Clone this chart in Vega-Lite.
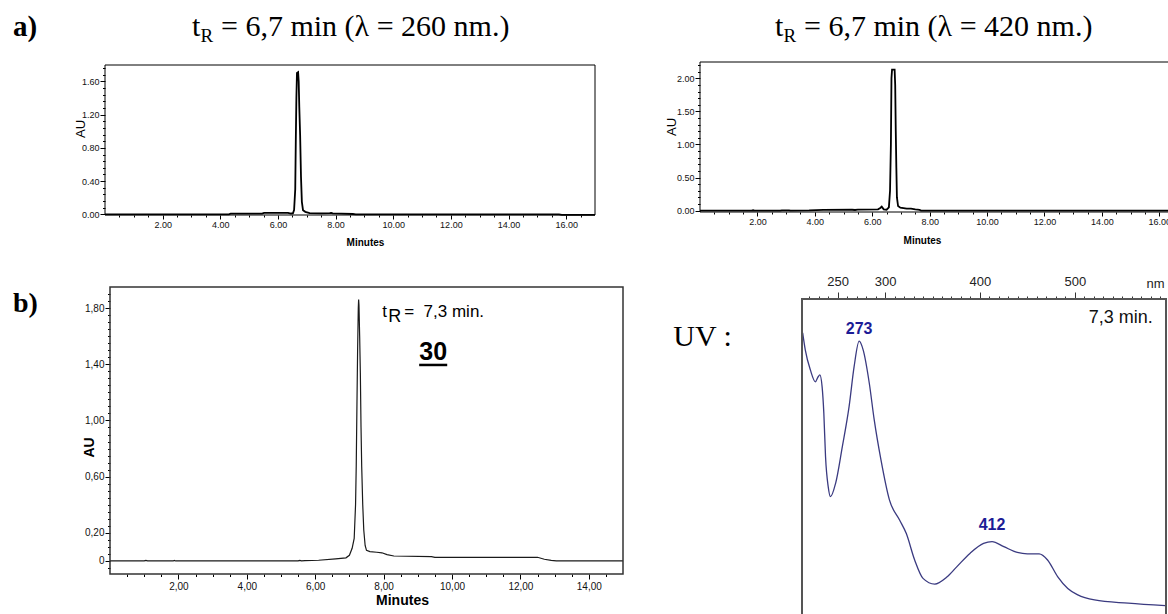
{
  "$schema": "https://vega.github.io/schema/vega-lite/v6.json",
  "width": 1168,
  "height": 614,
  "autosize": {"type": "none"},
  "padding": 0,
  "background": "#ffffff",
  "datasets": {
    "chromA": [
      {"t": 0, "au": 0}, {"t": 4.3, "au": 0}, {"t": 4.36, "au": 0.008}, {"t": 5.45, "au": 0.008}, {"t": 5.52, "au": 0.018},
      {"t": 6.35, "au": 0.018}, {"t": 6.45, "au": 0.01}, {"t": 6.52, "au": 0.012}, {"t": 6.56, "au": 0.05}, {"t": 6.6, "au": 0.3},
      {"t": 6.62, "au": 0.9}, {"t": 6.64, "au": 1.4}, {"t": 6.66, "au": 1.7}, {"t": 6.7, "au": 1.71}, {"t": 6.72, "au": 1.6},
      {"t": 6.74, "au": 1.3}, {"t": 6.77, "au": 0.95}, {"t": 6.8, "au": 0.45}, {"t": 6.83, "au": 0.15}, {"t": 6.87, "au": 0.05},
      {"t": 6.95, "au": 0.03}, {"t": 7.1, "au": 0.015}, {"t": 7.5, "au": 0.012}, {"t": 7.8, "au": 0.014}, {"t": 7.85, "au": 0.018},
      {"t": 7.9, "au": 0.012}, {"t": 8.2, "au": 0.008}, {"t": 8.6, "au": 0.004}, {"t": 8.7, "au": 0}, {"t": 15.75, "au": 0},
      {"t": 15.85, "au": -0.006}, {"t": 17, "au": -0.006}
    ],
    "chromB": [
      {"t": 0, "au": 0}, {"t": 1.8, "au": 0}, {"t": 1.85, "au": 0.006}, {"t": 1.9, "au": 0}, {"t": 2.8, "au": 0},
      {"t": 2.85, "au": 0.006}, {"t": 3.1, "au": 0.006}, {"t": 3.15, "au": 0}, {"t": 3.8, "au": 0.004}, {"t": 4.3, "au": 0.012},
      {"t": 5.3, "au": 0.014}, {"t": 5.4, "au": 0.01}, {"t": 5.5, "au": 0.015}, {"t": 6.2, "au": 0.02}, {"t": 6.28, "au": 0.04},
      {"t": 6.33, "au": 0.06}, {"t": 6.4, "au": 0.02}, {"t": 6.5, "au": 0.015}, {"t": 6.58, "au": 0.05}, {"t": 6.62, "au": 0.3},
      {"t": 6.65, "au": 1.0}, {"t": 6.67, "au": 2.0}, {"t": 6.69, "au": 2.13}, {"t": 6.78, "au": 2.13}, {"t": 6.8, "au": 1.9},
      {"t": 6.82, "au": 1.2}, {"t": 6.84, "au": 0.65}, {"t": 6.86, "au": 0.2}, {"t": 6.9, "au": 0.07}, {"t": 6.98, "au": 0.045},
      {"t": 7.2, "au": 0.03}, {"t": 7.35, "au": 0.03}, {"t": 7.5, "au": 0.02}, {"t": 7.65, "au": 0.012}, {"t": 7.7, "au": 0.002},
      {"t": 17, "au": 0}
    ],
    "chromC": [
      {"t": 0, "au": 0}, {"t": 1.0, "au": 0}, {"t": 1.05, "au": 0.004}, {"t": 1.1, "au": 0}, {"t": 1.85, "au": 0},
      {"t": 1.88, "au": 0.004}, {"t": 1.92, "au": 0}, {"t": 5.5, "au": 0}, {"t": 5.55, "au": 0.004}, {"t": 5.6, "au": 0},
      {"t": 5.7, "au": 0.002}, {"t": 6.1, "au": 0.005}, {"t": 6.6, "au": 0.015}, {"t": 6.9, "au": 0.022}, {"t": 7.0, "au": 0.04},
      {"t": 7.08, "au": 0.09}, {"t": 7.14, "au": 0.16}, {"t": 7.18, "au": 0.4}, {"t": 7.2, "au": 0.68}, {"t": 7.22, "au": 1.1},
      {"t": 7.24, "au": 1.5}, {"t": 7.26, "au": 1.8}, {"t": 7.27, "au": 1.86}, {"t": 7.28, "au": 1.82}, {"t": 7.3, "au": 1.6},
      {"t": 7.32, "au": 1.34}, {"t": 7.34, "au": 0.95}, {"t": 7.36, "au": 0.67}, {"t": 7.39, "au": 0.4}, {"t": 7.42, "au": 0.22},
      {"t": 7.46, "au": 0.11}, {"t": 7.5, "au": 0.075}, {"t": 7.6, "au": 0.066}, {"t": 7.8, "au": 0.062}, {"t": 7.95, "au": 0.058},
      {"t": 8.1, "au": 0.045}, {"t": 8.3, "au": 0.035}, {"t": 9.4, "au": 0.031}, {"t": 9.5, "au": 0.026}, {"t": 12.5, "au": 0.026},
      {"t": 12.7, "au": 0.012}, {"t": 12.9, "au": 0.004}, {"t": 13.05, "au": 0}, {"t": 15, "au": 0}
    ],
    "uv": [
      {"nm": 213.2, "a": 0.906}, {"nm": 216, "a": 0.858}, {"nm": 221.3, "a": 0.803}, {"nm": 226.6, "a": 0.77},
      {"nm": 229.5, "a": 0.784}, {"nm": 231.3, "a": 0.789}, {"nm": 233.7, "a": 0.756}, {"nm": 235.5, "a": 0.683},
      {"nm": 237.3, "a": 0.562}, {"nm": 240.1, "a": 0.479}, {"nm": 242.5, "a": 0.451}, {"nm": 247.9, "a": 0.488},
      {"nm": 255, "a": 0.59}, {"nm": 262.1, "a": 0.701}, {"nm": 267.4, "a": 0.812}, {"nm": 272.7, "a": 0.883},
      {"nm": 277, "a": 0.858}, {"nm": 283.4, "a": 0.766}, {"nm": 288.6, "a": 0.664}, {"nm": 295.7, "a": 0.553},
      {"nm": 304.6, "a": 0.442}, {"nm": 315.3, "a": 0.386}, {"nm": 322.3, "a": 0.349}, {"nm": 331.2, "a": 0.275},
      {"nm": 340, "a": 0.224}, {"nm": 352.4, "a": 0.208}, {"nm": 364.8, "a": 0.227}, {"nm": 375.5, "a": 0.256},
      {"nm": 389.7, "a": 0.294}, {"nm": 403.8, "a": 0.321}, {"nm": 412.7, "a": 0.326}, {"nm": 425.1, "a": 0.312},
      {"nm": 439.3, "a": 0.296}, {"nm": 449.9, "a": 0.292}, {"nm": 462.3, "a": 0.292}, {"nm": 471.2, "a": 0.275},
      {"nm": 481.8, "a": 0.229}, {"nm": 492.5, "a": 0.196}, {"nm": 503.1, "a": 0.178}, {"nm": 520.7, "a": 0.164},
      {"nm": 556.2, "a": 0.155}, {"nm": 595.3, "a": 0.148}
    ]
  },
  "resolve": {"scale": {"x": "independent", "y": "independent"}, "axis": {"x": "independent", "y": "independent"}},
  "layer": [
    {
      "resolve": {"axis": {"x": "independent", "y": "independent"}},
      "layer": [
        {
          "data": {"name": "chromA"},
          "mark": {"type": "line", "color": "#000000", "strokeWidth": 1.8},
          "encoding": {
            "x": {"field": "t", "type": "quantitative", "scale": {"domain": [0, 17], "range": [105, 595], "nice": false, "zero": false},
              "axis": {"orient": "bottom", "offset": -399, "title": "Minutes", "values": [0.5,1,1.5,2,2.5,3,3.5,4,4.5,5,5.5,6,6.5,7,7.5,8,8.5,9,9.5,10,10.5,11,11.5,12,12.5,13,13.5,14,14.5,15,15.5,16,16.5],
                "labelExpr": "datum.value % 2 === 0 ? format(datum.value, '.2f') : ''",
                "tickSize": {"condition": {"test": "datum.value % 2 === 0", "value": 4}, "value": 2},
                "labelFontSize": 9, "labelPadding": 1.5, "labelOverlap": false,
                "titleFontWeight": "bold", "titleFontSize": 10, "titleX": 365, "titleY": 27, "titleBaseline": "middle"}},
            "y": {"field": "au", "type": "quantitative", "scale": {"domain": [-0.008, 1.797], "range": [215, 65], "nice": false, "zero": false},
              "axis": {"orient": "left", "offset": -105, "title": "AU", "values": [0,0.08,0.16,0.24,0.32,0.4,0.48,0.56,0.64,0.72,0.8,0.88,0.96,1.04,1.12,1.2,1.28,1.36,1.44,1.52,1.6,1.68,1.76],
                "labelExpr": "indexof([0,0.4,0.8,1.2,1.6], datum.value) >= 0 ? format(datum.value, '.2f') : ''",
                "tickSize": {"condition": {"test": "indexof([0,0.4,0.8,1.2,1.6], datum.value) >= 0", "value": 5}, "value": 2.5},
                "labelFontSize": 9, "labelPadding": 1, "labelOverlap": false,
                "titleFontWeight": "normal", "titleFontSize": 13, "titleX": -24.5, "titleY": 128.5, "titleBaseline": "middle", "titleAlign": "center"}}
          }
        },
        {
          "data": {"values": [{}]},
          "mark": {"type": "rect", "filled": false, "stroke": "#000000", "strokeWidth": 1},
          "encoding": {
            "x": {"datum": 0, "type": "quantitative", "scale": {"domain": [0, 17], "range": [105, 595], "nice": false, "zero": false}, "axis": null},
            "x2": {"datum": 17},
            "y": {"datum": -0.008, "type": "quantitative", "scale": {"domain": [-0.008, 1.797], "range": [215, 65], "nice": false, "zero": false}, "axis": null},
            "y2": {"datum": 1.797}
          }
        },
        {
          "data": {"values": [{}]},
          "mark": {"type": "text", "text": "a)", "font": "Liberation Serif", "fontWeight": "bold", "fontSize": 29, "align": "left", "baseline": "alphabetic", "color": "#000000"},
          "encoding": {
            "x": {"datum": -3.192, "type": "quantitative", "scale": {"domain": [0, 17], "range": [105, 595], "nice": false, "zero": false}, "axis": null},
            "y": {"datum": 2.146, "type": "quantitative", "scale": {"domain": [-0.008, 1.797], "range": [215, 65], "nice": false, "zero": false}, "axis": null}
          }
        },
        {
          "data": {"values": [{}]},
          "mark": {"type": "text", "text": "t", "font": "Liberation Serif", "fontSize": 30, "align": "left", "baseline": "alphabetic", "color": "#000000"},
          "encoding": {
            "x": {"datum": 3.019, "type": "quantitative", "scale": {"domain": [0, 17], "range": [105, 595], "nice": false, "zero": false}, "axis": null},
            "y": {"datum": 2.146, "type": "quantitative", "scale": {"domain": [-0.008, 1.797], "range": [215, 65], "nice": false, "zero": false}, "axis": null}
          }
        },
        {
          "data": {"values": [{}]},
          "mark": {"type": "text", "text": "R", "font": "Liberation Serif", "fontSize": 19, "align": "left", "baseline": "alphabetic", "dx": 8.5, "dy": 6, "color": "#000000"},
          "encoding": {
            "x": {"datum": 3.019, "type": "quantitative", "scale": {"domain": [0, 17], "range": [105, 595], "nice": false, "zero": false}, "axis": null},
            "y": {"datum": 2.146, "type": "quantitative", "scale": {"domain": [-0.008, 1.797], "range": [215, 65], "nice": false, "zero": false}, "axis": null}
          }
        },
        {
          "data": {"values": [{}]},
          "mark": {"type": "text", "text": "= 6,7 min (λ = 260 nm.)", "font": "Liberation Serif", "fontSize": 30, "align": "left", "baseline": "alphabetic", "dx": 29, "color": "#000000"},
          "encoding": {
            "x": {"datum": 3.019, "type": "quantitative", "scale": {"domain": [0, 17], "range": [105, 595], "nice": false, "zero": false}, "axis": null},
            "y": {"datum": 2.146, "type": "quantitative", "scale": {"domain": [-0.008, 1.797], "range": [215, 65], "nice": false, "zero": false}, "axis": null}
          }
        }
      ]
    },
    {
      "resolve": {"axis": {"x": "independent", "y": "independent"}},
      "layer": [
        {
          "data": {"name": "chromB"},
          "mark": {"type": "line", "color": "#000000", "strokeWidth": 1.8},
          "encoding": {
            "x": {"field": "t", "type": "quantitative", "scale": {"domain": [0, 17], "range": [700, 1188], "nice": false, "zero": false},
              "axis": {"orient": "bottom", "offset": -402, "title": "Minutes", "values": [0.5,1,1.5,2,2.5,3,3.5,4,4.5,5,5.5,6,6.5,7,7.5,8,8.5,9,9.5,10,10.5,11,11.5,12,12.5,13,13.5,14,14.5,15,15.5,16,16.5],
                "labelExpr": "datum.value % 2 === 0 ? format(datum.value, '.2f') : ''",
                "tickSize": {"condition": {"test": "datum.value % 2 === 0", "value": 4}, "value": 2},
                "labelFontSize": 9, "labelPadding": 1.5, "labelOverlap": false,
                "titleFontWeight": "bold", "titleFontSize": 10, "titleX": 922, "titleY": 28, "titleBaseline": "middle"}},
            "y": {"field": "au", "type": "quantitative", "scale": {"domain": [-0.02, 2.246], "range": [212, 62], "nice": false, "zero": false},
              "axis": {"orient": "left", "offset": -700, "title": "AU", "values": [0,0.1,0.2,0.3,0.4,0.5,0.6,0.7,0.8,0.9,1,1.1,1.2,1.3,1.4,1.5,1.6,1.7,1.8,1.9,2,2.1,2.2],
                "labelExpr": "indexof([0,0.5,1,1.5,2], datum.value) >= 0 ? format(datum.value, '.2f') : ''",
                "tickSize": {"condition": {"test": "indexof([0,0.5,1,1.5,2], datum.value) >= 0", "value": 5}, "value": 2.5},
                "labelFontSize": 9, "labelPadding": 1, "labelOverlap": false,
                "titleFontWeight": "normal", "titleFontSize": 13, "titleX": -28.5, "titleY": 126.5, "titleBaseline": "middle", "titleAlign": "center"}}
          }
        },
        {
          "data": {"values": [{}]},
          "mark": {"type": "rect", "filled": false, "stroke": "#000000", "strokeWidth": 1},
          "encoding": {
            "x": {"datum": 0, "type": "quantitative", "scale": {"domain": [0, 17], "range": [700, 1188], "nice": false, "zero": false}, "axis": null},
            "x2": {"datum": 17},
            "y": {"datum": -0.02, "type": "quantitative", "scale": {"domain": [-0.02, 2.246], "range": [212, 62], "nice": false, "zero": false}, "axis": null},
            "y2": {"datum": 2.246}
          }
        },
        {
          "data": {"values": [{}]},
          "mark": {"type": "text", "text": "t", "font": "Liberation Serif", "fontSize": 30, "align": "left", "baseline": "alphabetic", "color": "#000000"},
          "encoding": {
            "x": {"datum": 2.613, "type": "quantitative", "scale": {"domain": [0, 17], "range": [700, 1188], "nice": false, "zero": false}, "axis": null},
            "y": {"datum": 2.639, "type": "quantitative", "scale": {"domain": [-0.02, 2.246], "range": [212, 62], "nice": false, "zero": false}, "axis": null}
          }
        },
        {
          "data": {"values": [{}]},
          "mark": {"type": "text", "text": "R", "font": "Liberation Serif", "fontSize": 19, "align": "left", "baseline": "alphabetic", "dx": 8.5, "dy": 6, "color": "#000000"},
          "encoding": {
            "x": {"datum": 2.613, "type": "quantitative", "scale": {"domain": [0, 17], "range": [700, 1188], "nice": false, "zero": false}, "axis": null},
            "y": {"datum": 2.639, "type": "quantitative", "scale": {"domain": [-0.02, 2.246], "range": [212, 62], "nice": false, "zero": false}, "axis": null}
          }
        },
        {
          "data": {"values": [{}]},
          "mark": {"type": "text", "text": "= 6,7 min (λ = 420 nm.)", "font": "Liberation Serif", "fontSize": 30, "align": "left", "baseline": "alphabetic", "dx": 29, "color": "#000000"},
          "encoding": {
            "x": {"datum": 2.613, "type": "quantitative", "scale": {"domain": [0, 17], "range": [700, 1188], "nice": false, "zero": false}, "axis": null},
            "y": {"datum": 2.639, "type": "quantitative", "scale": {"domain": [-0.02, 2.246], "range": [212, 62], "nice": false, "zero": false}, "axis": null}
          }
        }
      ]
    },
    {
      "resolve": {"axis": {"x": "independent", "y": "independent"}},
      "layer": [
        {
          "data": {"name": "chromC"},
          "mark": {"type": "line", "color": "#1a1a1a", "strokeWidth": 1.2},
          "encoding": {
            "x": {"field": "t", "type": "quantitative", "scale": {"domain": [0, 15], "range": [110, 623], "nice": false, "zero": false},
              "axis": {"orient": "bottom", "offset": -40, "title": "Minutes", "values": [0.5,1,1.5,2,2.5,3,3.5,4,4.5,5,5.5,6,6.5,7,7.5,8,8.5,9,9.5,10,10.5,11,11.5,12,12.5,13,13.5,14,14.5],
                "labelExpr": "datum.value % 2 === 0 ? replace(format(datum.value, '.2f'), '.', ',') : ''",
                "tickSize": {"condition": {"test": "datum.value % 2 === 0", "value": 5}, "value": 2.5},
                "labelFontSize": 10, "labelPadding": 2, "labelOverlap": false,
                "titleFontWeight": "bold", "titleFontSize": 14, "titleX": 402, "titleY": 26, "titleBaseline": "middle"}},
            "y": {"field": "au", "type": "quantitative", "scale": {"domain": [-0.093, 1.95], "range": [574, 287], "nice": false, "zero": false},
              "axis": {"orient": "left", "offset": -110, "title": "AU", "values": [-0.05,0,0.05,0.1,0.15,0.2,0.25,0.3,0.35,0.4,0.45,0.5,0.55,0.6,0.65,0.7,0.75,0.8,0.85,0.9,0.95,1,1.05,1.1,1.15,1.2,1.25,1.3,1.35,1.4,1.45,1.5,1.55,1.6,1.65,1.7,1.75,1.8,1.85,1.9],
                "labelExpr": "datum.value === 0 ? '0' : (indexof([0.2,0.6,1,1.4,1.8], datum.value) >= 0 ? replace(format(datum.value, '.2f'), '.', ',') : '')",
                "tickSize": {"condition": {"test": "indexof([0,0.2,0.6,1,1.4,1.8], datum.value) >= 0", "value": 5}, "value": 2.5},
                "labelFontSize": 10, "labelPadding": 1, "labelOverlap": false,
                "titleFontWeight": "bold", "titleFontSize": 14, "titleX": -21, "titleY": 447, "titleBaseline": "middle", "titleAlign": "center"}}
          }
        },
        {
          "data": {"values": [{}]},
          "mark": {"type": "rect", "filled": false, "stroke": "#333333", "strokeWidth": 1.5},
          "encoding": {
            "x": {"datum": 0, "type": "quantitative", "scale": {"domain": [0, 15], "range": [110, 623], "nice": false, "zero": false}, "axis": null},
            "x2": {"datum": 15},
            "y": {"datum": -0.093, "type": "quantitative", "scale": {"domain": [-0.093, 1.95], "range": [574, 287], "nice": false, "zero": false}, "axis": null},
            "y2": {"datum": 1.95}
          }
        },
        {
          "data": {"values": [{}]},
          "mark": {"type": "text", "text": "b)", "font": "Liberation Serif", "fontWeight": "bold", "fontSize": 28, "align": "left", "baseline": "alphabetic", "color": "#000000"},
          "encoding": {
            "x": {"datum": -2.836, "type": "quantitative", "scale": {"domain": [0, 15], "range": [110, 623], "nice": false, "zero": false}, "axis": null},
            "y": {"datum": 1.772, "type": "quantitative", "scale": {"domain": [-0.093, 1.95], "range": [574, 287], "nice": false, "zero": false}, "axis": null}
          }
        },
        {
          "data": {"values": [{}]},
          "mark": {"type": "text", "text": "t", "fontSize": 17, "align": "left", "baseline": "alphabetic", "color": "#000000"},
          "encoding": {
            "x": {"datum": 7.96, "type": "quantitative", "scale": {"domain": [0, 15], "range": [110, 623], "nice": false, "zero": false}, "axis": null},
            "y": {"datum": 1.739, "type": "quantitative", "scale": {"domain": [-0.093, 1.95], "range": [574, 287], "nice": false, "zero": false}, "axis": null}
          }
        },
        {
          "data": {"values": [{}]},
          "mark": {"type": "text", "text": "R", "fontSize": 18, "align": "left", "baseline": "alphabetic", "dx": 6, "dy": 5, "color": "#000000"},
          "encoding": {
            "x": {"datum": 7.96, "type": "quantitative", "scale": {"domain": [0, 15], "range": [110, 623], "nice": false, "zero": false}, "axis": null},
            "y": {"datum": 1.739, "type": "quantitative", "scale": {"domain": [-0.093, 1.95], "range": [574, 287], "nice": false, "zero": false}, "axis": null}
          }
        },
        {
          "data": {"values": [{}]},
          "mark": {"type": "text", "text": "= \u00a07,3 min.", "fontSize": 17, "align": "left", "baseline": "alphabetic", "dx": 22, "color": "#000000"},
          "encoding": {
            "x": {"datum": 7.96, "type": "quantitative", "scale": {"domain": [0, 15], "range": [110, 623], "nice": false, "zero": false}, "axis": null},
            "y": {"datum": 1.739, "type": "quantitative", "scale": {"domain": [-0.093, 1.95], "range": [574, 287], "nice": false, "zero": false}, "axis": null}
          }
        },
        {
          "data": {"values": [{}]},
          "mark": {"type": "text", "text": "30", "fontSize": 25, "fontWeight": "bold", "align": "center", "baseline": "alphabetic", "color": "#000000"},
          "encoding": {
            "x": {"datum": 9.45, "type": "quantitative", "scale": {"domain": [0, 15], "range": [110, 623], "nice": false, "zero": false}, "axis": null},
            "y": {"datum": 1.43, "type": "quantitative", "scale": {"domain": [-0.093, 1.95], "range": [574, 287], "nice": false, "zero": false}, "axis": null}
          }
        },
        {
          "data": {"values": [{}]},
          "mark": {"type": "rule", "strokeWidth": 2.5, "color": "#000000"},
          "encoding": {
            "x": {"datum": 9.04, "type": "quantitative", "scale": {"domain": [0, 15], "range": [110, 623], "nice": false, "zero": false}, "axis": null},
            "x2": {"datum": 9.86},
            "y": {"datum": 1.395, "type": "quantitative", "scale": {"domain": [-0.093, 1.95], "range": [574, 287], "nice": false, "zero": false}, "axis": null}
          }
        }
      ]
    },
    {
      "resolve": {"axis": {"x": "independent", "y": "independent"}},
      "layer": [
        {
          "data": {"name": "uv"},
          "mark": {"type": "line", "color": "#3a3a80", "strokeWidth": 1.3, "interpolate": "monotone"},
          "encoding": {
            "x": {"field": "nm", "type": "quantitative", "scale": {"domain": [212.5, 596], "range": [802, 1166], "nice": false, "zero": false},
              "axis": {"orient": "top", "offset": -299, "title": "nm", "values": [220,230,240,250,260,270,280,290,300,310,320,330,340,350,360,370,380,390,400,410,420,430,440,450,460,470,480,490,500,510,520,530,540,550,560,570,580,590],
                "labelExpr": "indexof([250,300,400,500], datum.value) >= 0 ? datum.label : ''",
                "tickSize": {"condition": {"test": "indexof([250,300,400,500], datum.value) >= 0", "value": 7}, "value": 3},
                "tickColor": "#333333", "labelColor": "#222222", "labelFontSize": 13, "labelPadding": 4, "labelOverlap": false,
                "titleFontWeight": "normal", "titleFontSize": 13, "titleColor": "#222222", "titleAngle": 0, "titleX": 1155, "titleY": -16, "titleBaseline": "middle", "titleAlign": "center"}},
            "y": {"field": "a", "type": "quantitative", "scale": {"domain": [0, 1], "range": [659, 299], "nice": false, "zero": false}, "axis": null}
          }
        },
        {
          "data": {"values": [{}]},
          "mark": {"type": "rect", "filled": false, "stroke": "#555555", "strokeWidth": 2},
          "encoding": {
            "x": {"datum": 212.5, "type": "quantitative", "scale": {"domain": [212.5, 596], "range": [802, 1166], "nice": false, "zero": false}, "axis": null},
            "x2": {"datum": 596},
            "y": {"datum": 0, "type": "quantitative", "scale": {"domain": [0, 1], "range": [659, 299], "nice": false, "zero": false}, "axis": null},
            "y2": {"datum": 1}
          }
        },
        {
          "data": {"values": [{}]},
          "mark": {"type": "text", "text": "273", "fontSize": 16, "fontWeight": "bold", "align": "center", "baseline": "middle", "color": "#1c1c96"},
          "encoding": {
            "x": {"datum": 272.7, "type": "quantitative", "scale": {"domain": [212.5, 596], "range": [802, 1166], "nice": false, "zero": false}, "axis": null},
            "y": {"datum": 0.916, "type": "quantitative", "scale": {"domain": [0, 1], "range": [659, 299], "nice": false, "zero": false}, "axis": null}
          }
        },
        {
          "data": {"values": [{}]},
          "mark": {"type": "text", "text": "412", "fontSize": 16, "fontWeight": "bold", "align": "center", "baseline": "middle", "color": "#1c1c96"},
          "encoding": {
            "x": {"datum": 412.7, "type": "quantitative", "scale": {"domain": [212.5, 596], "range": [802, 1166], "nice": false, "zero": false}, "axis": null},
            "y": {"datum": 0.372, "type": "quantitative", "scale": {"domain": [0, 1], "range": [659, 299], "nice": false, "zero": false}, "axis": null}
          }
        },
        {
          "data": {"values": [{}]},
          "mark": {"type": "text", "text": "7,3 min.", "fontSize": 18, "align": "center", "baseline": "middle", "color": "#111111"},
          "encoding": {
            "x": {"datum": 548.4, "type": "quantitative", "scale": {"domain": [212.5, 596], "range": [802, 1166], "nice": false, "zero": false}, "axis": null},
            "y": {"datum": 0.946, "type": "quantitative", "scale": {"domain": [0, 1], "range": [659, 299], "nice": false, "zero": false}, "axis": null}
          }
        },
        {
          "data": {"values": [{}]},
          "mark": {"type": "text", "text": "UV :", "font": "Liberation Serif", "fontSize": 30, "align": "center", "baseline": "alphabetic", "color": "#000000"},
          "encoding": {
            "x": {"datum": 107.7, "type": "quantitative", "scale": {"domain": [212.5, 596], "range": [802, 1166], "nice": false, "zero": false}, "axis": null},
            "y": {"datum": 0.869, "type": "quantitative", "scale": {"domain": [0, 1], "range": [659, 299], "nice": false, "zero": false}, "axis": null}
          }
        }
      ]
    }
  ],
  "config": {
    "font": "Liberation Sans",
    "view": {"stroke": null},
    "axis": {"grid": false, "domain": false, "labelFont": "Liberation Sans", "titleFont": "Liberation Sans", "tickColor": "#000000", "labelColor": "#111111", "titleColor": "#000000"}
  }
}
